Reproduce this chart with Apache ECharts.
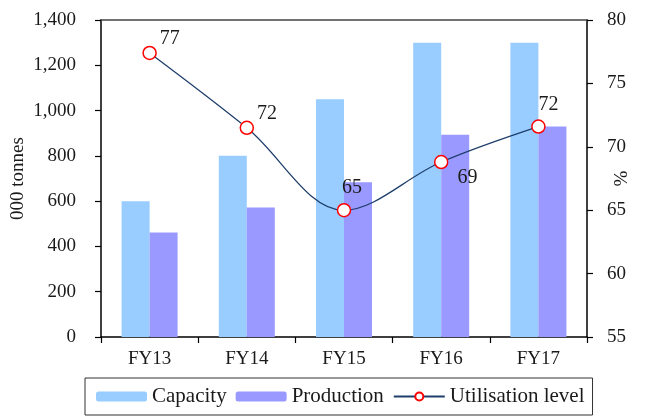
<!DOCTYPE html>
<html>
<head>
<meta charset="utf-8">
<script src="https://cdn.jsdelivr.net/npm/echarts@6/dist/echarts.min.js"></script>
<style>
  html, body { margin: 0; padding: 0; background: #fff; }
  #chart { width: 650px; height: 417px; }
</style>
</head>
<body>
<div id="chart"></div>
<script>
// Fiscal years on the category axis
const categories = ['FY13', 'FY14', 'FY15', 'FY16', 'FY17'];
// Installed capacity and actual production, '000 tonnes
const capacity = [600, 800, 1050, 1300, 1300];
const production = [462, 572, 683, 893, 930];
// Capacity utilisation, %
const utilisation = [77.4, 71.5, 65.0, 68.8, 71.6];
// Where each utilisation label sits relative to its marker
const labelPlacement = [
  { position: 'right', offset: [-2, -14] },
  { position: 'right', offset: [-2, -14] },
  { position: 'top', offset: [8, 0] },
  { position: 'right', offset: [4, 16] },
  { position: 'top', offset: [10, 0] }
];

const FONT = 'Liberation Serif';
const TEXT = '#1a1a1a';

const chart = echarts.init(document.getElementById('chart'), null, { renderer: 'canvas' });

chart.setOption({
  animation: false,
  textStyle: { fontFamily: FONT, color: TEXT },
  grid: { left: 101, right: 63, top: 20, bottom: 80, outerBoundsMode: 'none', containLabel: false },
  legend: {
    left: 85,
    top: 378,
    width: 530,
    padding: [8, 8, 8, 11],
    borderColor: '#333',
    borderWidth: 1,
    itemWidth: 51,
    itemHeight: 10,
    itemGap: 9,
    textStyle: { fontFamily: FONT, fontSize: 21, color: TEXT },
    data: ['Capacity', 'Production', 'Utilisation level']
  },
  xAxis: [
    {
      type: 'category',
      data: categories,
      axisLine: { lineStyle: { color: '#000', width: 1.5 } },
      axisTick: { show: true, length: 6, inside: false, lineStyle: { color: '#000', width: 1.2 } },
      axisLabel: { fontFamily: FONT, fontSize: 19, color: TEXT, margin: 13 }
    },
    {
      // top frame line of the plot area
      type: 'category',
      position: 'top',
      data: categories,
      axisLine: { show: true, lineStyle: { color: '#444', width: 1.5 } },
      axisTick: { show: false },
      axisLabel: { show: false }
    }
  ],
  yAxis: [
    {
      type: 'value',
      min: 0,
      max: 1400,
      interval: 200,
      name: '000 tonnes',
      nameLocation: 'middle',
      nameGap: 73,
      nameRotate: 90,
      nameMoveOverlap: false,
      nameTextStyle: { fontFamily: FONT, fontSize: 19, color: TEXT },
      axisLine: { show: true, lineStyle: { color: '#000', width: 1.5 } },
      axisTick: { show: true, length: 6, lineStyle: { color: '#000', width: 1.2 } },
      splitLine: { show: false },
      axisLabel: {
        fontFamily: FONT, fontSize: 19, color: TEXT, margin: 25,
        formatter: v => v.toLocaleString('en-US')
      }
    },
    {
      type: 'value',
      min: 55,
      max: 80,
      interval: 5,
      position: 'right',
      name: '%',
      nameLocation: 'middle',
      nameGap: 26,
      nameRotate: 90,
      nameMoveOverlap: false,
      nameTextStyle: { fontFamily: FONT, fontSize: 19, color: TEXT },
      axisLine: { show: true, lineStyle: { color: '#000', width: 1.5 } },
      axisTick: { show: true, length: 6, lineStyle: { color: '#000', width: 1.2 } },
      splitLine: { show: false },
      axisLabel: { fontFamily: FONT, fontSize: 19, color: TEXT, margin: 20 }
    }
  ],
  series: [
    {
      name: 'Capacity',
      type: 'bar',
      data: capacity,
      barWidth: 28,
      barGap: '0%',
      itemStyle: { color: '#99CCFF' }
    },
    {
      name: 'Production',
      type: 'bar',
      data: production,
      barWidth: 28,
      barGap: '0%',
      itemStyle: { color: '#9999FF' }
    },
    {
      name: 'Utilisation level',
      type: 'line',
      yAxisIndex: 1,
      smooth: 0.35,
      data: utilisation.map((v, i) => ({
        value: v,
        label: labelPlacement[i]
      })),
      symbol: 'circle',
      symbolSize: 13,
      lineStyle: { color: '#1F3F6B', width: 1.3 },
      itemStyle: { color: '#fff', borderColor: '#FF0000', borderWidth: 1.5 },
      label: {
        show: true,
        fontFamily: FONT,
        fontSize: 20,
        color: TEXT,
        formatter: p => Math.round(p.value)
      },
      z: 5
    }
  ]
});
</script>
</body>
</html>
